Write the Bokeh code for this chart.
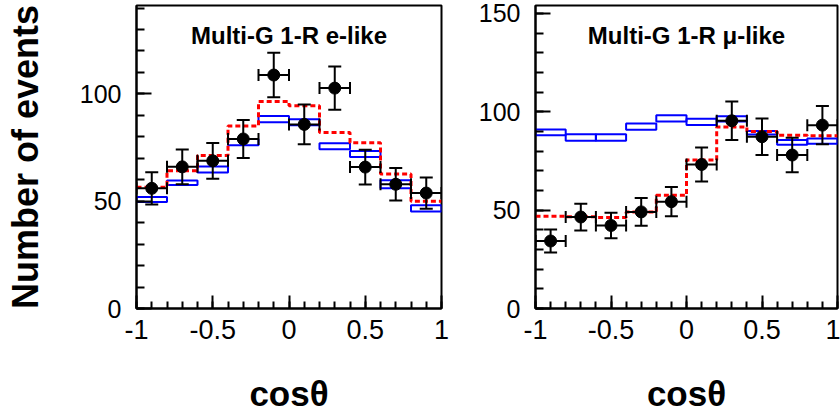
from bokeh.plotting import figure
from bokeh.layouts import row
from bokeh.models import (ColumnDataSource, Whisker, TeeHead, Label, Range1d,
                          SingleIntervalTicker)
from bokeh.embed import file_html
from bokeh.resources import INLINE

# ---------------- data ----------------
bin_edges = [-1.0, -0.8, -0.6, -0.4, -0.2, 0.0, 0.2, 0.4, 0.6, 0.8, 1.0]
bin_centers = [-0.9, -0.7, -0.5, -0.3, -0.1, 0.1, 0.3, 0.5, 0.7, 0.9]
x_tick_labels = {-1.0: "-1", -0.5: "-0.5", 0.0: "0", 0.5: "0.5", 1.0: "1"}
x_label = "cosθ"
y_label = "Number of events"

e_title = "Multi-G 1-R e-like"
e_data = [56.0, 66.0, 68.8, 79.0, 108.8, 85.8, 102.7, 65.9, 57.9, 53.8]
e_err = [7.5, 8.1, 8.3, 8.9, 10.4, 9.3, 10.1, 8.1, 7.6, 7.3]
e_mc = [50.8, 58.6, 64.8, 77.5, 88.3, 86.8, 75.6, 72.0, 57.9, 46.7]
e_mc_err = [1.2, 1.1, 1.4, 1.45, 1.45, 1.45, 1.4, 1.4, 1.85, 1.45]
e_fit = [56.5, 64.2, 71.3, 85.0, 96.5, 94.5, 82.0, 77.2, 62.7, 50.0]

mu_title = "Multi-G 1-R μ-like"
mu_data = [34.3, 46.5, 42.2, 49.1, 54.3, 73.2, 95.4, 87.3, 78.0, 93.2]
mu_err = [5.9, 6.8, 6.5, 7.0, 7.4, 8.6, 9.8, 9.3, 8.8, 9.7]
mu_mc = [89.5, 86.9, 86.9, 92.4, 96.6, 94.9, 96.4, 89.3, 84.4, 85.1]
mu_mc_err = [1.5, 1.6, 1.6, 1.6, 1.6, 1.6, 1.35, 0.9, 1.2, 1.35]
mu_fit = [46.9, 46.6, 46.2, 49.1, 57.5, 75.5, 92.3, 90.0, 88.1, 87.8]

FONT = "Liberation Sans"


def make_panel(title, data, err, mc, mc_err, fit, y_end, title_y,
               width, border_left, border_right, ylabel):
    p = figure(width=width, height=415,
               x_range=Range1d(-1, 1), y_range=Range1d(0, y_end),
               output_backend="svg", toolbar_location=None,
               min_border_left=border_left, min_border_right=border_right,
               min_border_top=5, min_border_bottom=105)
    p.grid.visible = False
    p.outline_line_color = "black"
    p.outline_line_width = 2
    p.background_fill_color = "white"
    p.border_fill_color = "white"

    # blue MC boxes
    p.quad(left=bin_edges[:-1], right=bin_edges[1:],
           bottom=[m - e for m, e in zip(mc, mc_err)],
           top=[m + e for m, e in zip(mc, mc_err)],
           fill_color=None, line_color="#0000ff", line_width=2)

    # red dashed best fit histogram
    p.step(x=bin_edges, y=list(fit) + [fit[-1]], mode="after",
           line_color="#ff0000", line_width=3, line_dash="5 3")

    # data with error bars
    src = ColumnDataSource(dict(
        x=bin_centers, y=data,
        yl=[d - e for d, e in zip(data, err)],
        yu=[d + e for d, e in zip(data, err)],
        xl=bin_edges[:-1], xu=bin_edges[1:]))
    vw = Whisker(source=src, base="x", lower="yl", upper="yu",
                 dimension="height", line_color="black", line_width=2,
                 upper_head=TeeHead(size=13, line_width=2, line_color="black"),
                 lower_head=TeeHead(size=13, line_width=2, line_color="black"),
                 level="annotation")
    hw = Whisker(source=src, base="y", lower="xl", upper="xu",
                 dimension="width", line_color="black", line_width=2,
                 upper_head=TeeHead(size=12, line_width=2, line_color="black"),
                 lower_head=TeeHead(size=12, line_width=2, line_color="black"),
                 level="annotation")
    p.add_layout(vw)
    p.add_layout(hw)
    p.scatter(x="x", y="y", source=src, size=12, color="black")

    p.add_layout(Label(x=0, y=title_y, text=title, text_align="center",
                       text_baseline="alphabetic", text_font=FONT,
                       text_font_size="24px", text_font_style="bold",
                       text_color="black"))

    # axes
    p.xaxis.ticker = SingleIntervalTicker(interval=0.5, num_minor_ticks=5)
    p.yaxis.ticker = SingleIntervalTicker(interval=50, num_minor_ticks=5)
    p.xaxis.major_label_overrides = x_tick_labels
    for ax in (p.xaxis[0], p.yaxis[0]):
        ax.axis_line_width = 2
        ax.axis_line_color = "black"
        ax.major_tick_line_width = 2
        ax.minor_tick_line_width = 2
        ax.major_tick_line_color = "black"
        ax.minor_tick_line_color = "black"
        ax.major_tick_out = 0
        ax.minor_tick_out = 0
        ax.major_label_text_font = FONT
        ax.major_label_text_color = "black"
        ax.axis_label_text_font = FONT
        ax.axis_label_text_font_style = "bold"
        ax.axis_label_text_color = "black"
    p.xaxis.major_tick_in = 13
    p.xaxis.minor_tick_in = 7
    p.yaxis.major_tick_in = 15
    p.yaxis.minor_tick_in = 8
    p.xaxis.major_label_text_font_size = "27px"
    p.yaxis.major_label_text_font_size = "25px"
    p.xaxis.major_label_standoff = 11
    p.yaxis.major_label_standoff = 15
    p.xaxis.axis_label = x_label
    p.xaxis.axis_label_text_font_size = "35px"
    p.xaxis.axis_label_standoff = 32
    if ylabel:
        p.yaxis.axis_label = ylabel
        p.yaxis.axis_label_text_font_size = "36px"
        p.yaxis.axis_label_standoff = 31
    return p


p1 = make_panel(e_title, e_data, e_err, e_mc, e_mc_err, e_fit,
                y_end=141.2, title_y=127.3,
                width=475, border_left=136, border_right=34, ylabel=y_label)
p2 = make_panel(mu_title, mu_data, mu_err, mu_mc, mu_mc_err, mu_fit,
                y_end=154.0, title_y=138.7,
                width=365, border_left=59, border_right=3, ylabel=None)

layout = row(p1, p2)

open("out.html", "w").write(file_html(layout, INLINE))
